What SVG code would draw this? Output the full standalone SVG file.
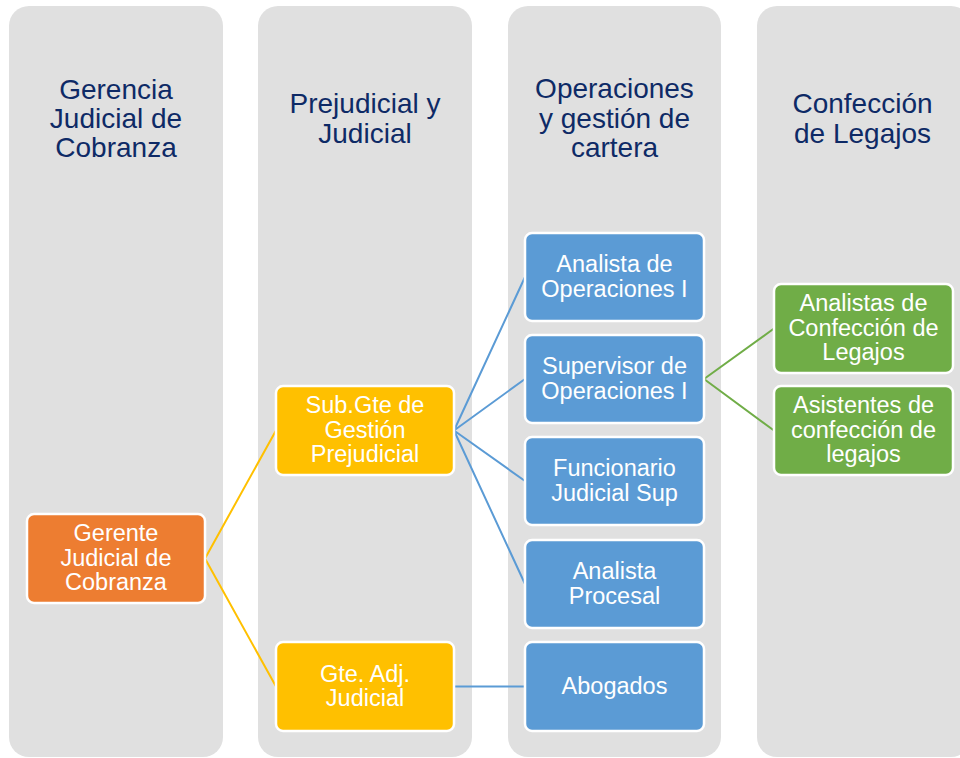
<svg xmlns="http://www.w3.org/2000/svg" width="960" height="758" viewBox="0 0 960 758">
<style>
.col{fill:#E0E0E0}
.hdr{font-family:"Liberation Sans",Arial,sans-serif;font-size:28px;fill:#0E2A66;text-anchor:middle}
.nd{stroke:#FFFFFF;stroke-width:2.5}
.o{fill:#ED7D31}.y{fill:#FFC000}.b{fill:#5B9BD5}.g{fill:#70AD47}
.t{font-family:"Liberation Sans",Arial,sans-serif;font-size:23.5px;fill:#FFFFFF;text-anchor:middle}
.cy{stroke:#FFC000;stroke-width:2;fill:none}
.cb{stroke:#5B9BD5;stroke-width:2;fill:none}
.cg{stroke:#70AD47;stroke-width:2;fill:none}
</style>
<rect width="960" height="758" fill="#FFFFFF"/>
<g id="columns">
<rect class="col" x="9" y="6" width="214" height="751" rx="20"/>
<rect class="col" x="258" y="6" width="214" height="751" rx="20"/>
<rect class="col" x="508" y="6" width="213" height="751" rx="20"/>
<rect class="col" x="757" y="6" width="214" height="751" rx="20"/>
<text class="hdr" x="116" y="99">Gerencia</text>
<text class="hdr" x="116" y="128">Judicial de</text>
<text class="hdr" x="116" y="157">Cobranza</text>
<text class="hdr" x="365" y="113">Prejudicial y</text>
<text class="hdr" x="365" y="143">Judicial</text>
<text class="hdr" x="614.5" y="98">Operaciones</text>
<text class="hdr" x="614.5" y="128">y gestión de</text>
<text class="hdr" x="614.5" y="157">cartera</text>
<text class="hdr" x="862.5" y="113">Confección</text>
<text class="hdr" x="862.5" y="143">de Legajos</text>
</g>
<g id="connectors">
<path class="cy" d="M205,558.5 L276,430.5 M205,558.5 L276,686.5"/>
<path class="cb" d="M454,430.5 L525,277 M454,430.5 L525,379 M454,430.5 L525,481 M454,430.5 L525,584 M454,686.5 L525,686.5"/>
<path class="cg" d="M704,379 L774,328.5 M704,379 L774,430.5"/>
</g>
<g id="n-gerente">
<rect class="nd o" x="27" y="514" width="178" height="89" rx="7"/>
<text class="t" x="116" y="541">Gerente</text>
<text class="t" x="116" y="565.5">Judicial de</text>
<text class="t" x="116" y="590">Cobranza</text>
</g>
<g id="n-subgte">
<rect class="nd y" x="276" y="386" width="178" height="89" rx="7"/>
<text class="t" x="365" y="413">Sub.Gte de</text>
<text class="t" x="365" y="437.5">Gestión</text>
<text class="t" x="365" y="462">Prejudicial</text>
</g>
<g id="n-gteadj">
<rect class="nd y" x="276" y="642" width="178" height="89" rx="7"/>
<text class="t" x="365" y="681.5">Gte. Adj.</text>
<text class="t" x="365" y="706">Judicial</text>
</g>
<g id="n-analista-op">
<rect class="nd b" x="525" y="233" width="179" height="88" rx="7"/>
<text class="t" x="614.5" y="272">Analista de</text>
<text class="t" x="614.5" y="296.5">Operaciones I</text>
</g>
<g id="n-supervisor">
<rect class="nd b" x="525" y="335" width="179" height="88" rx="7"/>
<text class="t" x="614.5" y="374">Supervisor de</text>
<text class="t" x="614.5" y="398.5">Operaciones I</text>
</g>
<g id="n-funcionario">
<rect class="nd b" x="525" y="437" width="179" height="88" rx="7"/>
<text class="t" x="614.5" y="476">Funcionario</text>
<text class="t" x="614.5" y="500.5">Judicial Sup</text>
</g>
<g id="n-procesal">
<rect class="nd b" x="525" y="540" width="179" height="88" rx="7"/>
<text class="t" x="614.5" y="579">Analista</text>
<text class="t" x="614.5" y="603.5">Procesal</text>
</g>
<g id="n-abogados">
<rect class="nd b" x="525" y="642" width="179" height="89" rx="7"/>
<text class="t" x="614.5" y="694">Abogados</text>
</g>
<g id="n-analistas-conf">
<rect class="nd g" x="774" y="284" width="179" height="89" rx="7"/>
<text class="t" x="863.5" y="311">Analistas de</text>
<text class="t" x="863.5" y="335.5">Confección de</text>
<text class="t" x="863.5" y="360">Legajos</text>
</g>
<g id="n-asistentes">
<rect class="nd g" x="774" y="386" width="179" height="89" rx="7"/>
<text class="t" x="863.5" y="413">Asistentes de</text>
<text class="t" x="863.5" y="437.5">confección de</text>
<text class="t" x="863.5" y="462">legajos</text>
</g>
</svg>
